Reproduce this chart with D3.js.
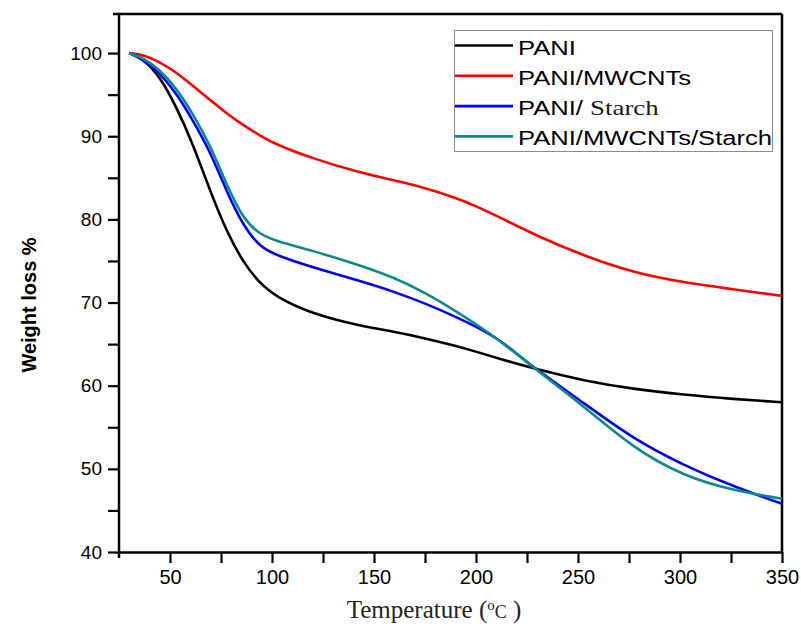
<!DOCTYPE html>
<html>
<head>
<meta charset="utf-8">
<script src="https://cdn.jsdelivr.net/npm/d3@7"></script>
<style>
  body { margin: 0; background: #fff; }
  svg { display: block; }
</style>
</head>
<body>
<div id="chart"></div>
<script>
// temperature grid (°C) shared by all four TGA curves
var temps = [30, 37, 45, 53, 61, 70, 78, 86, 94, 102, 119, 143, 160, 175, 190, 200, 212, 229, 253, 277, 302, 326, 350];

var pani = [100, 99.3, 97.2, 93.6, 89.2, 83.2, 78.4, 74.8, 72.3, 70.7, 68.7, 67.2, 66.5, 65.7, 64.8, 64.1, 63.2, 62.0, 60.6, 59.6, 58.9, 58.4, 58.0];
var paniMwcnt = [100, 99.8, 98.9, 97.7, 96.1, 94.3, 92.7, 91.3, 90.1, 89.0, 87.4, 85.6, 84.7, 83.8, 82.6, 81.6, 80.2, 78.1, 75.6, 73.6, 72.4, 71.6, 70.8];
var paniStarch = [100, 99.2, 97.6, 95.2, 92.0, 88.0, 83.2, 79.2, 76.7, 75.7, 74.3, 72.6, 71.3, 69.9, 68.3, 67.1, 65.5, 62.0, 57.9, 53.6, 50.4, 47.9, 45.8];
var paniMwcntStarch = [100, 99.4, 98.0, 95.8, 92.8, 88.8, 84.0, 80.0, 78.2, 77.4, 76.3, 74.5, 73.0, 71.2, 69.0, 67.4, 65.4, 62.0, 57.5, 52.5, 49.1, 47.4, 46.4];

var seriesNames = ["PANI", "PANI/MWCNTs", "PANI/ Starch", "PANI/MWCNTs/Starch"];
var seriesColors = ["#000000", "#ff0000", "#0000ff", "#0b8a86"];
var seriesValues = [pani, paniMwcnt, paniStarch, paniMwcntStarch];

var xTicks = d3.range(50, 351, 25);
var yTicks = d3.range(40, 101, 5);

var width = 801, height = 629;
var margin = { top: 14, right: 19, bottom: 77, left: 119 };

var svg = d3.select("#chart")
  .append("svg")
  .attr("width", width)
  .attr("height", height);

var x = d3.scaleLinear().domain([25, 350]).range([margin.left, width - margin.right]);
var y = d3.scaleLinear().domain([40, 104.7]).range([height - margin.bottom, margin.top]);

// frame lines on top and right
svg.append("line")
  .attr("x1", margin.left - 6).attr("x2", x(350))
  .attr("y1", margin.top).attr("y2", margin.top)
  .attr("stroke", "#000").attr("stroke-width", 2.5);
svg.append("line")
  .attr("x1", x(350)).attr("x2", x(350))
  .attr("y1", margin.top).attr("y2", y(40))
  .attr("stroke", "#000").attr("stroke-width", 2.5);

var xAxis = svg.append("g")
  .attr("transform", "translate(0," + y(40) + ")")
  .call(d3.axisBottom(x)
    .tickValues(xTicks)
    .tickSize(11)
    .tickPadding(7)
    .tickSizeOuter(0)
    .tickFormat(function(d) { return d % 50 === 0 ? d : ""; }));

var yAxis = svg.append("g")
  .attr("transform", "translate(" + x(25) + ",0)")
  .call(d3.axisLeft(y)
    .tickValues(yTicks)
    .tickSize(11)
    .tickPadding(6)
    .tickSizeOuter(0)
    .tickFormat(function(d) { return d % 10 === 0 ? d : ""; }));

[xAxis, yAxis].forEach(function(g) {
  g.select(".domain").attr("stroke-width", 2.5);
  g.selectAll(".tick line").attr("stroke-width", 2.2);
  g.selectAll("text")
    .attr("fill", "#000")
    .attr("font-family", "Arial, 'Liberation Sans', sans-serif");
});
xAxis.selectAll("text").attr("font-size", 20);
yAxis.selectAll("text").attr("font-size", 19);
// left axis pokes a little below the x axis
yAxis.select(".domain").attr("d", "M0," + margin.top + "V" + (y(40) + 6));

// curves
var line = d3.line()
  .x(function(d) { return x(d[0]); })
  .y(function(d) { return y(d[1]); })
  .curve(d3.curveBasis);

seriesValues.forEach(function(vals, i) {
  svg.append("path")
    .datum(temps.map(function(t, j) { return [t, vals[j]]; }))
    .attr("fill", "none")
    .attr("stroke", seriesColors[i])
    .attr("stroke-width", 2.6)
    .attr("d", line);
});

// legend
var legend = svg.append("g");
legend.append("rect")
  .attr("x", 454.5).attr("y", 30.5)
  .attr("width", 318).attr("height", 121)
  .attr("fill", "#fff")
  .attr("stroke", "#8a8a8a")
  .attr("stroke-width", 1);

seriesNames.forEach(function(name, i) {
  var ly = 45.5 + i * 30.3;
  legend.append("line")
    .attr("x1", 455).attr("x2", 513)
    .attr("y1", ly).attr("y2", ly)
    .attr("stroke", seriesColors[i])
    .attr("stroke-width", 2.6);
  var t = legend.append("text")
    .attr("transform", "translate(518," + (ly + 9) + ") scale(1.28,1)")
    .attr("font-family", "Arial, 'Liberation Sans', sans-serif")
    .attr("font-size", 20)
    .attr("fill", "#000");
  if (name === "PANI/ Starch") {
    t.append("tspan").text("PANI/ ");
    t.append("tspan")
      .attr("font-family", "'Times New Roman', 'Liberation Serif', serif")
      .attr("font-size", 21)
      .attr("fill", "#1a1a1a")
      .text("Starch");
  } else {
    t.text(name);
  }
});

// axis titles
svg.append("text")
  .attr("transform", "translate(36,305) rotate(-90)")
  .attr("text-anchor", "middle")
  .attr("font-family", "Arial, 'Liberation Sans', sans-serif")
  .attr("font-weight", "bold")
  .attr("font-size", 20)
  .text("Weight loss %");

var xt = svg.append("text")
  .attr("x", 434).attr("y", 618)
  .attr("text-anchor", "middle")
  .attr("font-family", "'Times New Roman', 'Liberation Serif', serif")
  .attr("font-size", 25)
  .attr("fill", "#222");
xt.append("tspan").text("Temperature (");
xt.append("tspan").attr("font-size", 15).attr("dy", -8).text("o");
xt.append("tspan").attr("font-size", 18).attr("dy", 8).text("C");
xt.append("tspan").text(" )");
</script>
</body>
</html>
